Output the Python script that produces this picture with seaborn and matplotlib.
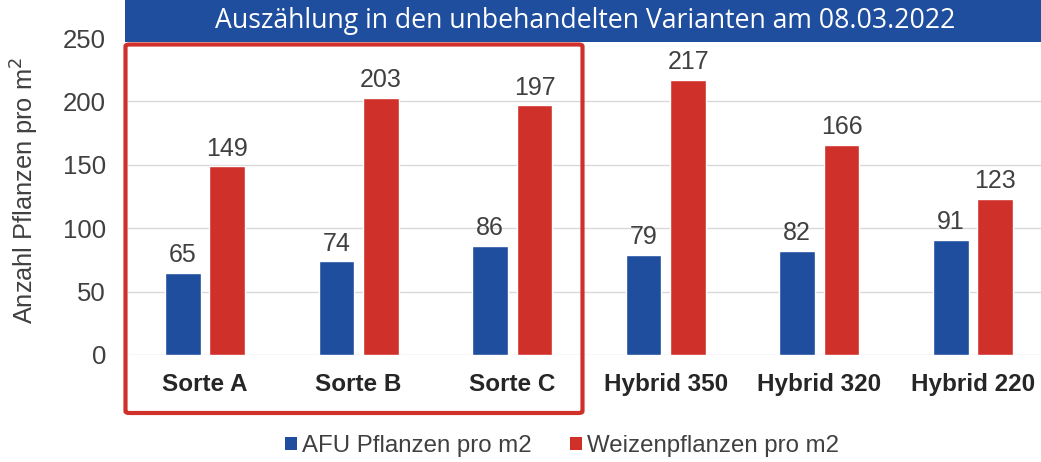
import matplotlib
matplotlib.use("Agg")
import matplotlib.pyplot as plt
from matplotlib.patches import Rectangle, FancyBboxPatch, Patch
import seaborn as sns
import pandas as pd

categories = ["Sorte A", "Sorte B", "Sorte C", "Hybrid 350", "Hybrid 320", "Hybrid 220"]
afu_values = [65, 74, 86, 79, 82, 91]
weizen_values = [149, 203, 197, 217, 166, 123]
series_names = ["AFU Pflanzen pro m2", "Weizenpflanzen pro m2"]
y_ticks = [0, 50, 100, 150, 200, 250]
title = "Auszählung in den unbehandelten Varianten am 08.03.2022"
y_label = "Anzahl Pflanzen pro m$^2$"

BLUE = "#1F4E9E"
RED = "#D0302A"
TEXT = "#404040"

df = pd.DataFrame({
    "Kategorie": categories * 2,
    "Serie": [series_names[0]] * len(categories) + [series_names[1]] * len(categories),
    "Wert": afu_values + weizen_values,
})

sns.set_theme(style="white")
plt.rcParams["font.family"] = ["Liberation Sans", "DejaVu Sans"]

W, H = 1041, 462
fig = plt.figure(figsize=(W / 100, H / 100), dpi=100)
left, right, bottom, top = 128.2, 1049.8, 355, 38
ax = fig.add_axes([left / W, (H - bottom) / H, (right - left) / W, (bottom - top) / H])

sns.barplot(data=df, x="Kategorie", y="Wert", hue="Serie", order=categories,
            hue_order=series_names, palette=[BLUE, RED], width=0.58, gap=0.2,
            saturation=1, legend=False, ax=ax)

for container in ax.containers:
    ax.bar_label(container, fmt="%d", padding=4, fontsize=18, color=TEXT)

ax.set_ylim(0, 250)
ax.set_xlim(-0.5, 5.5)
ax.set_yticks(y_ticks)
ax.set_yticklabels([str(t) for t in y_ticks], fontsize=18.5, color=TEXT)
ax.tick_params(axis="y", length=0, pad=16)
ax.tick_params(axis="x", length=0, pad=13)
for lbl in ax.get_xticklabels():
    lbl.set_fontweight("bold")
    lbl.set_fontsize(17.5)
    lbl.set_color("#262626")
ax.set_xlabel("")
ax.set_ylabel("")
ax.yaxis.grid(True, color="#D9D9D9", linewidth=1.0)
ax.set_axisbelow(True)
for s in ax.spines.values():
    s.set_visible(False)

fig.text(25 / W, 1 - 190 / H, y_label, rotation=90, ha="center", va="center",
         fontsize=18.3, color=TEXT)

# title banner across the top
fig.patches.append(Rectangle((125 / W, 1 - 42 / H), 1 - 125 / W, 42 / H,
                             transform=fig.transFigure, facecolor=BLUE,
                             edgecolor="none", zorder=5))
fig.text(585 / W, 1 - 21 / H, title, ha="center", va="center", fontsize=19.2,
         color="white", family=["Open Sans", "DejaVu Sans"], zorder=6)

# frame around the three Sorten
fig.patches.append(FancyBboxPatch((125.5 / W, 1 - 413 / H), (582.5 - 125.5) / W,
                                  (413 - 44.5) / H,
                                  boxstyle="round,pad=0,rounding_size=0.004",
                                  transform=fig.transFigure, facecolor="none",
                                  edgecolor=RED, linewidth=3, zorder=7))

handles = [Patch(facecolor=BLUE, edgecolor="none"), Patch(facecolor=RED, edgecolor="none")]
fig.legend(handles, series_names, loc="center", bbox_to_anchor=(562 / W, 1 - 446 / H),
           ncol=2, frameon=False, fontsize=17.3, handlelength=0.5, handleheight=0.5,
           handletextpad=0.2, columnspacing=1.6, labelcolor=TEXT)

fig.savefig("out.png", dpi=100)
